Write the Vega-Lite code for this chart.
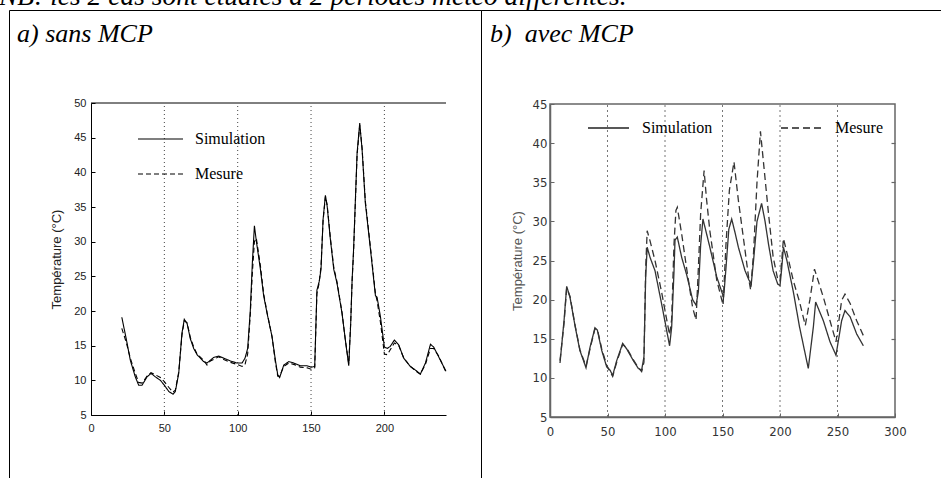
{
  "$schema": "https://vega.github.io/schema/vega-lite/v6.json",
  "autosize": {"type": "pad"},
  "padding": {"left": -1, "top": -17, "right": 0, "bottom": 0},
  "background": "white",
  "title": {
    "text": "NB: les 2 cas sont étudiés à 2 périodes météo différentes.",
    "anchor": "start", "frame": "group", "dx": -10, "offset": -23, "baseline": "alphabetic",
    "font": "Liberation Serif", "fontSize": 27.5, "fontStyle": "italic", "fontWeight": "normal", "color": "black"
  },
  "spacing": 0,
  "bounds": "flush",
  "resolve": {"scale": {"strokeDash": "independent"}, "legend": {"strokeDash": "independent"}},
  "datasets": {
    "sansMCP": [
      {"t": 21, "temp": 19.1, "serie": "Simulation"}, {"t": 24, "temp": 16.0, "serie": "Simulation"}, {"t": 26.8, "temp": 12.9, "serie": "Simulation"},
      {"t": 30.2, "temp": 10.5, "serie": "Simulation"}, {"t": 32.5, "temp": 9.3, "serie": "Simulation"}, {"t": 34.8, "temp": 9.3, "serie": "Simulation"},
      {"t": 38.2, "temp": 10.5, "serie": "Simulation"}, {"t": 40.9, "temp": 11.0, "serie": "Simulation"}, {"t": 43.9, "temp": 10.5, "serie": "Simulation"},
      {"t": 47.3, "temp": 10.0, "serie": "Simulation"}, {"t": 50, "temp": 9.3, "serie": "Simulation"}, {"t": 53, "temp": 8.4, "serie": "Simulation"},
      {"t": 55.9, "temp": 8.0, "serie": "Simulation"}, {"t": 57.5, "temp": 8.4, "serie": "Simulation"}, {"t": 59.8, "temp": 11.0, "serie": "Simulation"},
      {"t": 62, "temp": 16.8, "serie": "Simulation"}, {"t": 63.6, "temp": 18.8, "serie": "Simulation"}, {"t": 65.5, "temp": 18.2, "serie": "Simulation"},
      {"t": 67.7, "temp": 16.0, "serie": "Simulation"}, {"t": 70, "temp": 14.6, "serie": "Simulation"}, {"t": 72.3, "temp": 13.7, "serie": "Simulation"},
      {"t": 76.8, "temp": 12.7, "serie": "Simulation"}, {"t": 79.1, "temp": 12.5, "serie": "Simulation"}, {"t": 81.4, "temp": 12.9, "serie": "Simulation"},
      {"t": 83.6, "temp": 13.3, "serie": "Simulation"}, {"t": 87, "temp": 13.5, "serie": "Simulation"}, {"t": 90.5, "temp": 13.2, "serie": "Simulation"},
      {"t": 95, "temp": 12.8, "serie": "Simulation"}, {"t": 99.5, "temp": 12.5, "serie": "Simulation"}, {"t": 103, "temp": 12.5, "serie": "Simulation"},
      {"t": 105, "temp": 13.2, "serie": "Simulation"}, {"t": 106.8, "temp": 14.6, "serie": "Simulation"}, {"t": 108.6, "temp": 20.1, "serie": "Simulation"},
      {"t": 110, "temp": 27.0, "serie": "Simulation"}, {"t": 111.4, "temp": 32.3, "serie": "Simulation"}, {"t": 112.7, "temp": 30.1, "serie": "Simulation"},
      {"t": 115.5, "temp": 26.0, "serie": "Simulation"}, {"t": 117.7, "temp": 22.2, "serie": "Simulation"}, {"t": 120, "temp": 19.7, "serie": "Simulation"},
      {"t": 123.4, "temp": 16.3, "serie": "Simulation"}, {"t": 125.7, "temp": 12.9, "serie": "Simulation"}, {"t": 127.3, "temp": 10.8, "serie": "Simulation"},
      {"t": 128.6, "temp": 10.4, "serie": "Simulation"}, {"t": 131.4, "temp": 12.2, "serie": "Simulation"}, {"t": 134.8, "temp": 12.7, "serie": "Simulation"},
      {"t": 138.2, "temp": 12.5, "serie": "Simulation"}, {"t": 142.7, "temp": 12.1, "serie": "Simulation"}, {"t": 147.3, "temp": 12.1, "serie": "Simulation"},
      {"t": 150, "temp": 11.9, "serie": "Simulation"}, {"t": 152.5, "temp": 12.0, "serie": "Simulation"}, {"t": 154, "temp": 23.0, "serie": "Simulation"},
      {"t": 155.5, "temp": 24.2, "serie": "Simulation"}, {"t": 156.8, "temp": 26.0, "serie": "Simulation"}, {"t": 158.2, "temp": 33.2, "serie": "Simulation"},
      {"t": 159.8, "temp": 36.7, "serie": "Simulation"}, {"t": 161, "temp": 35.1, "serie": "Simulation"}, {"t": 163.2, "temp": 30.3, "serie": "Simulation"},
      {"t": 165.5, "temp": 26.0, "serie": "Simulation"}, {"t": 167.7, "temp": 24.0, "serie": "Simulation"}, {"t": 171.1, "temp": 19.7, "serie": "Simulation"},
      {"t": 173.4, "temp": 15.8, "serie": "Simulation"}, {"t": 175.7, "temp": 12.1, "serie": "Simulation"}, {"t": 177, "temp": 18.0, "serie": "Simulation"},
      {"t": 178, "temp": 24.5, "serie": "Simulation"}, {"t": 179, "temp": 28.9, "serie": "Simulation"}, {"t": 181.4, "temp": 42.8, "serie": "Simulation"},
      {"t": 183.2, "temp": 47.1, "serie": "Simulation"}, {"t": 184.8, "temp": 43.3, "serie": "Simulation"}, {"t": 187, "temp": 35.6, "serie": "Simulation"},
      {"t": 190.5, "temp": 28.9, "serie": "Simulation"}, {"t": 193.9, "temp": 22.2, "serie": "Simulation"}, {"t": 195, "temp": 22.0, "serie": "Simulation"},
      {"t": 197.3, "temp": 19.2, "serie": "Simulation"}, {"t": 200, "temp": 14.8, "serie": "Simulation"}, {"t": 202, "temp": 14.6, "serie": "Simulation"},
      {"t": 204, "temp": 14.9, "serie": "Simulation"}, {"t": 206.8, "temp": 15.8, "serie": "Simulation"}, {"t": 209.8, "temp": 15.1, "serie": "Simulation"},
      {"t": 213.2, "temp": 13.2, "serie": "Simulation"}, {"t": 217.7, "temp": 12.0, "serie": "Simulation"}, {"t": 222.3, "temp": 11.3, "serie": "Simulation"},
      {"t": 224.5, "temp": 10.9, "serie": "Simulation"}, {"t": 228, "temp": 12.5, "serie": "Simulation"}, {"t": 231.4, "temp": 15.2, "serie": "Simulation"},
      {"t": 233.6, "temp": 14.8, "serie": "Simulation"}, {"t": 237, "temp": 13.4, "serie": "Simulation"}, {"t": 242, "temp": 11.3, "serie": "Simulation"},
      {"t": 21, "temp": 17.5, "serie": "Mesure"}, {"t": 24, "temp": 15.5, "serie": "Mesure"}, {"t": 26.8, "temp": 13.2, "serie": "Mesure"},
      {"t": 30.2, "temp": 11.0, "serie": "Mesure"}, {"t": 32.5, "temp": 9.7, "serie": "Mesure"}, {"t": 34.8, "temp": 9.6, "serie": "Mesure"},
      {"t": 38.2, "temp": 10.6, "serie": "Mesure"}, {"t": 40.9, "temp": 11.1, "serie": "Mesure"}, {"t": 43.9, "temp": 10.8, "serie": "Mesure"},
      {"t": 47.3, "temp": 10.4, "serie": "Mesure"}, {"t": 50, "temp": 9.8, "serie": "Mesure"}, {"t": 53, "temp": 9.0, "serie": "Mesure"},
      {"t": 55.9, "temp": 8.3, "serie": "Mesure"}, {"t": 57.5, "temp": 8.6, "serie": "Mesure"}, {"t": 59.8, "temp": 11.2, "serie": "Mesure"},
      {"t": 62, "temp": 16.5, "serie": "Mesure"}, {"t": 63.6, "temp": 18.6, "serie": "Mesure"}, {"t": 65.5, "temp": 18.3, "serie": "Mesure"},
      {"t": 67.7, "temp": 16.2, "serie": "Mesure"}, {"t": 70, "temp": 14.8, "serie": "Mesure"}, {"t": 72.3, "temp": 13.8, "serie": "Mesure"},
      {"t": 76.8, "temp": 12.9, "serie": "Mesure"}, {"t": 79.1, "temp": 12.2, "serie": "Mesure"}, {"t": 81.4, "temp": 12.8, "serie": "Mesure"},
      {"t": 83.6, "temp": 13.0, "serie": "Mesure"}, {"t": 87, "temp": 13.4, "serie": "Mesure"}, {"t": 90.5, "temp": 13.0, "serie": "Mesure"},
      {"t": 95, "temp": 12.6, "serie": "Mesure"}, {"t": 99.5, "temp": 12.3, "serie": "Mesure"}, {"t": 103, "temp": 12.0, "serie": "Mesure"},
      {"t": 105, "temp": 12.3, "serie": "Mesure"}, {"t": 106.8, "temp": 13.8, "serie": "Mesure"}, {"t": 108.6, "temp": 19.5, "serie": "Mesure"},
      {"t": 110, "temp": 25.5, "serie": "Mesure"}, {"t": 111.4, "temp": 30.0, "serie": "Mesure"}, {"t": 112.7, "temp": 30.5, "serie": "Mesure"},
      {"t": 115.5, "temp": 26.5, "serie": "Mesure"}, {"t": 117.7, "temp": 22.5, "serie": "Mesure"}, {"t": 120, "temp": 19.8, "serie": "Mesure"},
      {"t": 123.4, "temp": 16.3, "serie": "Mesure"}, {"t": 125.7, "temp": 12.6, "serie": "Mesure"}, {"t": 127.3, "temp": 10.6, "serie": "Mesure"},
      {"t": 128.6, "temp": 10.6, "serie": "Mesure"}, {"t": 131.4, "temp": 12.0, "serie": "Mesure"}, {"t": 134.8, "temp": 12.5, "serie": "Mesure"},
      {"t": 138.2, "temp": 12.3, "serie": "Mesure"}, {"t": 142.7, "temp": 11.9, "serie": "Mesure"}, {"t": 147.3, "temp": 11.8, "serie": "Mesure"},
      {"t": 150, "temp": 11.6, "serie": "Mesure"}, {"t": 152.5, "temp": 11.8, "serie": "Mesure"}, {"t": 154, "temp": 22.5, "serie": "Mesure"},
      {"t": 155.5, "temp": 24.0, "serie": "Mesure"}, {"t": 156.8, "temp": 26.5, "serie": "Mesure"}, {"t": 158.2, "temp": 33.0, "serie": "Mesure"},
      {"t": 159.8, "temp": 36.5, "serie": "Mesure"}, {"t": 161, "temp": 35.3, "serie": "Mesure"}, {"t": 163.2, "temp": 30.5, "serie": "Mesure"},
      {"t": 165.5, "temp": 26.3, "serie": "Mesure"}, {"t": 167.7, "temp": 24.2, "serie": "Mesure"}, {"t": 171.1, "temp": 19.8, "serie": "Mesure"},
      {"t": 173.4, "temp": 15.8, "serie": "Mesure"}, {"t": 175.7, "temp": 12.4, "serie": "Mesure"}, {"t": 177, "temp": 18.2, "serie": "Mesure"},
      {"t": 178, "temp": 24.3, "serie": "Mesure"}, {"t": 179, "temp": 28.5, "serie": "Mesure"}, {"t": 181.4, "temp": 42.5, "serie": "Mesure"},
      {"t": 183.2, "temp": 46.8, "serie": "Mesure"}, {"t": 184.8, "temp": 43.5, "serie": "Mesure"}, {"t": 187, "temp": 35.9, "serie": "Mesure"},
      {"t": 190.5, "temp": 29.2, "serie": "Mesure"}, {"t": 193.9, "temp": 22.5, "serie": "Mesure"}, {"t": 195, "temp": 21.5, "serie": "Mesure"},
      {"t": 197.3, "temp": 18.4, "serie": "Mesure"}, {"t": 200, "temp": 13.8, "serie": "Mesure"}, {"t": 202, "temp": 13.7, "serie": "Mesure"},
      {"t": 204, "temp": 14.4, "serie": "Mesure"}, {"t": 206.8, "temp": 15.4, "serie": "Mesure"}, {"t": 209.8, "temp": 15.0, "serie": "Mesure"},
      {"t": 213.2, "temp": 13.2, "serie": "Mesure"}, {"t": 217.7, "temp": 12.0, "serie": "Mesure"}, {"t": 222.3, "temp": 11.2, "serie": "Mesure"},
      {"t": 224.5, "temp": 10.9, "serie": "Mesure"}, {"t": 228, "temp": 12.3, "serie": "Mesure"}, {"t": 231.4, "temp": 14.6, "serie": "Mesure"},
      {"t": 233.6, "temp": 14.6, "serie": "Mesure"}, {"t": 237, "temp": 13.5, "serie": "Mesure"}, {"t": 242, "temp": 11.2, "serie": "Mesure"}
    ],
    "avecMCP": [
      {"t": 8.7, "temp": 11.9, "serie": "Simulation"}, {"t": 12.2, "temp": 17.3, "serie": "Simulation"}, {"t": 14.5, "temp": 21.7, "serie": "Simulation"},
      {"t": 17.4, "temp": 20.3, "serie": "Simulation"}, {"t": 21.7, "temp": 16.7, "serie": "Simulation"}, {"t": 26, "temp": 13.5, "serie": "Simulation"},
      {"t": 31.3, "temp": 11.3, "serie": "Simulation"}, {"t": 34.8, "temp": 13.9, "serie": "Simulation"}, {"t": 39.1, "temp": 16.4, "serie": "Simulation"},
      {"t": 41.2, "temp": 16.1, "serie": "Simulation"}, {"t": 45, "temp": 13.5, "serie": "Simulation"}, {"t": 49.3, "temp": 11.4, "serie": "Simulation"},
      {"t": 52.2, "temp": 11.0, "serie": "Simulation"}, {"t": 54.5, "temp": 10.3, "serie": "Simulation"}, {"t": 58, "temp": 12.2, "serie": "Simulation"},
      {"t": 63.2, "temp": 14.4, "serie": "Simulation"}, {"t": 66.7, "temp": 13.7, "serie": "Simulation"}, {"t": 72.5, "temp": 12.2, "serie": "Simulation"},
      {"t": 76.8, "temp": 11.2, "serie": "Simulation"}, {"t": 79.7, "temp": 11.0, "serie": "Simulation"}, {"t": 81.7, "temp": 12.7, "serie": "Simulation"},
      {"t": 83.2, "temp": 22.9, "serie": "Simulation"}, {"t": 84.5, "temp": 26.7, "serie": "Simulation"}, {"t": 87, "temp": 25.4, "serie": "Simulation"},
      {"t": 91.3, "temp": 23.7, "serie": "Simulation"}, {"t": 97, "temp": 19.5, "serie": "Simulation"}, {"t": 101.4, "temp": 16.1, "serie": "Simulation"},
      {"t": 104, "temp": 14.1, "serie": "Simulation"}, {"t": 105.8, "temp": 16.5, "serie": "Simulation"}, {"t": 107.8, "temp": 23.5, "serie": "Simulation"},
      {"t": 108.7, "temp": 27.6, "serie": "Simulation"}, {"t": 110.7, "temp": 28.0, "serie": "Simulation"}, {"t": 114.5, "temp": 25.4, "serie": "Simulation"},
      {"t": 118.8, "temp": 23.2, "serie": "Simulation"}, {"t": 124, "temp": 20.0, "serie": "Simulation"}, {"t": 127, "temp": 19.3, "serie": "Simulation"},
      {"t": 129, "temp": 21.0, "serie": "Simulation"}, {"t": 131, "temp": 27.0, "serie": "Simulation"}, {"t": 133, "temp": 30.3, "serie": "Simulation"},
      {"t": 136, "temp": 28.5, "serie": "Simulation"}, {"t": 139, "temp": 26.7, "serie": "Simulation"}, {"t": 145, "temp": 22.9, "serie": "Simulation"},
      {"t": 151, "temp": 20.3, "serie": "Simulation"}, {"t": 153, "temp": 24.0, "serie": "Simulation"}, {"t": 155.5, "temp": 29.0, "serie": "Simulation"},
      {"t": 158, "temp": 30.3, "serie": "Simulation"}, {"t": 161, "temp": 28.5, "serie": "Simulation"}, {"t": 163.8, "temp": 26.7, "serie": "Simulation"},
      {"t": 169.6, "temp": 23.7, "serie": "Simulation"}, {"t": 173, "temp": 22.5, "serie": "Simulation"}, {"t": 175, "temp": 22.0, "serie": "Simulation"},
      {"t": 177, "temp": 25.0, "serie": "Simulation"}, {"t": 180, "temp": 30.0, "serie": "Simulation"}, {"t": 184, "temp": 32.3, "serie": "Simulation"},
      {"t": 187, "temp": 30.0, "serie": "Simulation"}, {"t": 190, "temp": 27.1, "serie": "Simulation"}, {"t": 194, "temp": 23.7, "serie": "Simulation"},
      {"t": 198, "temp": 22.0, "serie": "Simulation"}, {"t": 200, "temp": 21.8, "serie": "Simulation"}, {"t": 201.5, "temp": 24.0, "serie": "Simulation"},
      {"t": 203, "temp": 26.7, "serie": "Simulation"}, {"t": 206, "temp": 25.0, "serie": "Simulation"}, {"t": 211.6, "temp": 21.0, "serie": "Simulation"},
      {"t": 217, "temp": 16.5, "serie": "Simulation"}, {"t": 224.6, "temp": 11.2, "serie": "Simulation"}, {"t": 229, "temp": 16.5, "serie": "Simulation"},
      {"t": 231, "temp": 19.7, "serie": "Simulation"}, {"t": 237.7, "temp": 17.3, "serie": "Simulation"}, {"t": 243.5, "temp": 14.6, "serie": "Simulation"},
      {"t": 248.7, "temp": 12.9, "serie": "Simulation"}, {"t": 253.6, "temp": 17.3, "serie": "Simulation"}, {"t": 256.5, "temp": 18.6, "serie": "Simulation"},
      {"t": 261, "temp": 17.8, "serie": "Simulation"}, {"t": 266.7, "temp": 15.6, "serie": "Simulation"}, {"t": 272.5, "temp": 14.1, "serie": "Simulation"},
      {"t": 8.7, "temp": 12.2, "serie": "Mesure"}, {"t": 12.2, "temp": 17.0, "serie": "Mesure"}, {"t": 14.5, "temp": 21.5, "serie": "Mesure"},
      {"t": 17.4, "temp": 20.4, "serie": "Mesure"}, {"t": 21.7, "temp": 16.8, "serie": "Mesure"}, {"t": 26, "temp": 13.6, "serie": "Mesure"},
      {"t": 31.3, "temp": 11.5, "serie": "Mesure"}, {"t": 34.8, "temp": 13.7, "serie": "Mesure"}, {"t": 39.1, "temp": 16.3, "serie": "Mesure"},
      {"t": 41.2, "temp": 16.2, "serie": "Mesure"}, {"t": 45, "temp": 13.7, "serie": "Mesure"}, {"t": 49.3, "temp": 11.6, "serie": "Mesure"},
      {"t": 52.2, "temp": 10.8, "serie": "Mesure"}, {"t": 54.5, "temp": 10.2, "serie": "Mesure"}, {"t": 58, "temp": 12.0, "serie": "Mesure"},
      {"t": 63.2, "temp": 14.3, "serie": "Mesure"}, {"t": 66.7, "temp": 13.8, "serie": "Mesure"}, {"t": 72.5, "temp": 12.3, "serie": "Mesure"},
      {"t": 76.8, "temp": 11.3, "serie": "Mesure"}, {"t": 79.7, "temp": 10.8, "serie": "Mesure"}, {"t": 81.7, "temp": 12.0, "serie": "Mesure"},
      {"t": 83.2, "temp": 24.0, "serie": "Mesure"}, {"t": 84.5, "temp": 28.8, "serie": "Mesure"}, {"t": 87, "temp": 27.5, "serie": "Mesure"},
      {"t": 91.3, "temp": 25.0, "serie": "Mesure"}, {"t": 97, "temp": 21.0, "serie": "Mesure"}, {"t": 101.4, "temp": 17.5, "serie": "Mesure"},
      {"t": 104, "temp": 15.5, "serie": "Mesure"}, {"t": 105.8, "temp": 17.5, "serie": "Mesure"}, {"t": 107.8, "temp": 27.0, "serie": "Mesure"},
      {"t": 109.5, "temp": 31.4, "serie": "Mesure"}, {"t": 110.7, "temp": 31.8, "serie": "Mesure"}, {"t": 114.5, "temp": 28.4, "serie": "Mesure"},
      {"t": 118.8, "temp": 24.0, "serie": "Mesure"}, {"t": 124, "temp": 19.0, "serie": "Mesure"}, {"t": 127, "temp": 17.4, "serie": "Mesure"},
      {"t": 129, "temp": 24.0, "serie": "Mesure"}, {"t": 131, "temp": 31.0, "serie": "Mesure"}, {"t": 134, "temp": 36.5, "serie": "Mesure"},
      {"t": 136, "temp": 33.0, "serie": "Mesure"}, {"t": 139, "temp": 28.8, "serie": "Mesure"}, {"t": 145, "temp": 22.5, "serie": "Mesure"},
      {"t": 150.5, "temp": 19.3, "serie": "Mesure"}, {"t": 153, "temp": 27.0, "serie": "Mesure"}, {"t": 156, "temp": 34.0, "serie": "Mesure"},
      {"t": 160, "temp": 37.6, "serie": "Mesure"}, {"t": 163.8, "temp": 32.7, "serie": "Mesure"}, {"t": 169.6, "temp": 26.3, "serie": "Mesure"},
      {"t": 173, "temp": 22.5, "serie": "Mesure"}, {"t": 174.5, "temp": 21.2, "serie": "Mesure"}, {"t": 177, "temp": 26.0, "serie": "Mesure"},
      {"t": 180, "temp": 35.0, "serie": "Mesure"}, {"t": 183, "temp": 41.5, "serie": "Mesure"}, {"t": 186, "temp": 37.0, "serie": "Mesure"},
      {"t": 190, "temp": 31.0, "serie": "Mesure"}, {"t": 194, "temp": 25.5, "serie": "Mesure"}, {"t": 198, "temp": 22.6, "serie": "Mesure"},
      {"t": 200, "temp": 22.4, "serie": "Mesure"}, {"t": 201.5, "temp": 25.0, "serie": "Mesure"}, {"t": 203, "temp": 27.8, "serie": "Mesure"},
      {"t": 206, "temp": 26.0, "serie": "Mesure"}, {"t": 211.6, "temp": 22.4, "serie": "Mesure"}, {"t": 217, "temp": 19.7, "serie": "Mesure"},
      {"t": 222, "temp": 16.7, "serie": "Mesure"}, {"t": 226, "temp": 20.0, "serie": "Mesure"}, {"t": 230, "temp": 23.9, "serie": "Mesure"},
      {"t": 237.7, "temp": 20.3, "serie": "Mesure"}, {"t": 243.5, "temp": 17.3, "serie": "Mesure"}, {"t": 248.7, "temp": 14.6, "serie": "Mesure"},
      {"t": 253.6, "temp": 19.9, "serie": "Mesure"}, {"t": 256.5, "temp": 20.7, "serie": "Mesure"}, {"t": 261, "temp": 19.5, "serie": "Mesure"},
      {"t": 266.7, "temp": 17.3, "serie": "Mesure"}, {"t": 272.5, "temp": 15.4, "serie": "Mesure"}
    ],
    "gridA": [{"t": 50}, {"t": 100}, {"t": 150}, {"t": 200}],
    "gridB": [{"t": 50}, {"t": 100}, {"t": 150}, {"t": 200}, {"t": 250}]
  },
  "hconcat": [
    {
      "width": 472,
      "height": 480,
      "title": {
        "text": "a) sans MCP", "anchor": "start", "frame": "group", "dx": 8, "offset": -58, "baseline": "alphabetic",
        "font": "Liberation Serif", "fontSize": 26, "fontStyle": "italic", "fontWeight": "normal", "color": "black"
      },
      "layer": [
        {
          "data": {"name": "gridA"},
          "mark": {"type": "rule", "color": "#444", "strokeDash": [1, 3], "strokeWidth": 1},
          "encoding": {
            "x": {"field": "t", "type": "quantitative", "title": null, "scale": {"domain": [0, 242], "range": [82, 437], "nice": false, "zero": false}},
            "y": {"datum": 5, "type": "quantitative", "scale": {"domain": [5, 50], "range": [405, 93], "nice": false, "zero": false}},
            "y2": {"datum": 50}
          }
        },
        {
          "data": {"values": [{}]},
          "mark": {"type": "rule", "color": "black", "strokeWidth": 1},
          "encoding": {
            "x": {"datum": 0, "type": "quantitative"},
            "x2": {"datum": 242},
            "y": {"datum": 50, "type": "quantitative"}
          }
        },
        {
          "data": {"name": "sansMCP"},
          "mark": {"type": "line", "color": "black", "strokeWidth": 1.1},
          "encoding": {
            "x": {
              "field": "t", "type": "quantitative", "title": null,
              "scale": {"domain": [0, 242], "range": [82, 437], "nice": false, "zero": false},
              "axis": {
                "orient": "bottom", "offset": -75, "values": [0, 50, 100, 150, 200],
                "tickSize": -4, "labelPadding": 11, "labelFlush": false,
                "labelFont": "Liberation Sans", "labelFontSize": 11, "labelColor": "#222",
                "domainColor": "black", "tickColor": "black"
              }
            },
            "y": {
              "field": "temp", "type": "quantitative", "title": "Température (°C)",
              "scale": {"domain": [5, 50], "range": [405, 93], "nice": false, "zero": false},
              "axis": {
                "orient": "left", "offset": -82, "values": [5, 10, 15, 20, 25, 30, 35, 40, 45, 50],
                "tickSize": -4, "labelPadding": 9, "labelFlush": false,
                "labelFont": "Liberation Sans", "labelFontSize": 11, "labelColor": "#222",
                "domainColor": "black", "tickColor": "black",
                "titleFont": "Liberation Sans", "titleFontSize": 13, "titleFontWeight": "normal", "titleColor": "#222", "titlePadding": 10
              }
            },
            "strokeDash": {
              "field": "serie", "type": "nominal",
              "scale": {"domain": ["Simulation", "Mesure"], "range": [[1, 0], [5, 3]]},
              "legend": {
                "title": null, "orient": "none", "legendX": 128, "legendY": 121, "direction": "vertical", "columns": 1,
                "symbolType": "stroke", "symbolSize": 2025, "symbolStrokeWidth": 1.2, "symbolStrokeColor": "black",
                "labelFont": "Liberation Serif", "labelFontSize": 16, "labelColor": "black", "labelOffset": 11,
                "rowPadding": 19, "clipHeight": 16, "padding": 0
              }
            }
          }
        }
      ]
    },
    {
      "width": 470,
      "height": 480,
      "title": {
        "text": "b)\u00a0 avec MCP", "anchor": "start", "frame": "group", "dx": 9, "offset": -58, "baseline": "alphabetic",
        "font": "Liberation Serif", "fontSize": 26, "fontStyle": "italic", "fontWeight": "normal", "color": "black"
      },
      "resolve": {"axis": {"y": "independent"}},
      "layer": [
        {
          "data": {"name": "gridB"},
          "mark": {"type": "rule", "color": "#777", "strokeDash": [2, 3], "strokeWidth": 1},
          "encoding": {
            "x": {"field": "t", "type": "quantitative", "title": null, "scale": {"domain": [0, 300], "range": [69, 414], "nice": false, "zero": false}},
            "y": {"datum": 5, "type": "quantitative", "axis": null, "scale": {"domain": [5, 45], "range": [407, 94], "nice": false, "zero": false}},
            "y2": {"datum": 45}
          }
        },
        {
          "data": {"values": [{}]},
          "mark": {"type": "rect", "fill": "transparent", "stroke": "#666", "strokeWidth": 1.5},
          "encoding": {
            "x": {"datum": 0, "type": "quantitative"},
            "x2": {"datum": 300},
            "y": {
              "datum": 5, "type": "quantitative",
              "axis": {
                "orient": "right", "offset": -56, "values": [10, 15, 20, 25, 30, 35, 40],
                "labels": false, "domain": false, "tickSize": -4, "tickColor": "#666", "tickWidth": 1.2, "title": null
              }
            },
            "y2": {"datum": 45}
          }
        },
        {
          "data": {"name": "avecMCP"},
          "mark": {"type": "line", "color": "#333", "strokeWidth": 1.3},
          "encoding": {
            "x": {
              "field": "t", "type": "quantitative", "title": null,
              "scale": {"domain": [0, 300], "range": [69, 414], "nice": false, "zero": false},
              "axis": {
                "orient": "bottom", "offset": -73, "values": [0, 50, 100, 150, 200, 250, 300],
                "tickSize": -4, "labelPadding": 12, "labelFlush": false,
                "labelFont": "Liberation Sans Narrow, DejaVu Sans Condensed, sans-serif", "labelFontSize": 13, "labelColor": "#333",
                "domainColor": "#666", "domainWidth": 1.5, "tickColor": "#666"
              }
            },
            "y": {
              "field": "temp", "type": "quantitative", "title": "Température (°C)",
              "scale": {"domain": [5, 45], "range": [407, 94], "nice": false, "zero": false},
              "axis": {
                "orient": "left", "offset": -69, "values": [5, 10, 15, 20, 25, 30, 35, 40, 45],
                "tickSize": -4, "labelPadding": 7, "labelFlush": false,
                "labelFont": "Liberation Sans Narrow, DejaVu Sans Condensed, sans-serif", "labelFontSize": 13, "labelColor": "#333",
                "domainColor": "#666", "domainWidth": 1.5, "tickColor": "#666",
                "titleFont": "Liberation Sans", "titleFontSize": 13, "titleFontWeight": "normal", "titleColor": "#555", "titlePadding": 8
              }
            },
            "strokeDash": {
              "field": "serie", "type": "nominal",
              "scale": {"domain": ["Simulation", "Mesure"], "range": [[1, 0], [7, 4]]},
              "legend": {
                "title": null, "orient": "none", "legendX": 106, "legendY": 110, "direction": "horizontal", "columns": 2, "columnPadding": 67,
                "symbolType": "stroke", "symbolSize": 1681, "symbolStrokeWidth": 1.3, "symbolStrokeColor": "#222",
                "labelFont": "Liberation Serif", "labelFontSize": 16, "labelColor": "black", "labelOffset": 12,
                "clipHeight": 16, "padding": 0
              }
            }
          }
        }
      ]
    }
  ],
  "config": {
    "view": {"stroke": "black", "strokeWidth": 1},
    "axis": {"grid": false}
  }
}
